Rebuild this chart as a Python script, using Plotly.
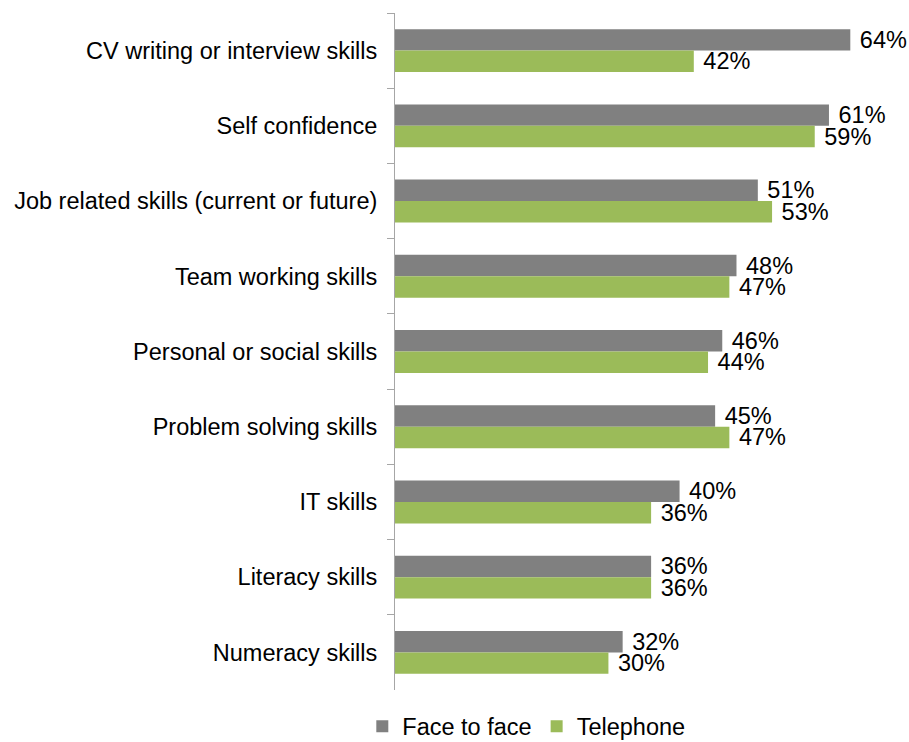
import plotly.graph_objects as go

categories = [
    "CV writing or interview skills",
    "Self confidence",
    "Job related skills (current or future)",
    "Team working skills",
    "Personal or social skills",
    "Problem solving skills",
    "IT skills",
    "Literacy skills",
    "Numeracy skills",
]
face_to_face = [64, 61, 51, 48, 46, 45, 40, 36, 32]
telephone = [42, 59, 53, 47, 44, 47, 36, 36, 30]

FONT = "Liberation Sans, Arial, sans-serif"
LABEL_SIZE = 23.5

fig = go.Figure()
fig.add_trace(go.Bar(
    name="Face to face", y=categories, x=face_to_face, orientation="h",
    marker=dict(color="#808080", line=dict(width=0)),
    texttemplate=" %{x}%", textposition="outside", cliponaxis=False,
    textfont=dict(size=LABEL_SIZE, color="#000000", family=FONT),
))
fig.add_trace(go.Bar(
    name="Telephone", y=categories, x=telephone, orientation="h",
    marker=dict(color="#9BBB59", line=dict(width=0)),
    texttemplate=" %{x}%", textposition="outside", cliponaxis=False,
    textfont=dict(size=LABEL_SIZE, color="#000000", family=FONT),
))

fig.update_layout(
    width=909, height=742,
    margin=dict(l=395, r=16, t=13, b=52, autoexpand=False),
    barmode="group", bargap=0.43, bargroupgap=0,
    plot_bgcolor="white", paper_bgcolor="white",
    font=dict(family=FONT, size=LABEL_SIZE, color="#000000"),
    uniformtext=dict(minsize=LABEL_SIZE, mode="show"),
    showlegend=True,
    legend=dict(orientation="h", xref="container", yref="container",
                x=0.579, xanchor="center", y=0.021, yanchor="middle",
                font=dict(size=LABEL_SIZE, family=FONT), traceorder="normal",
                itemwidth=30),
    xaxis=dict(range=[0, 70], showgrid=False, showticklabels=False, zeroline=False,
               showline=False, ticks=""),
    yaxis=dict(autorange="reversed", showgrid=False, showline=True, linecolor="#A6A6A6",
               linewidth=1, ticks="outside", tickson="boundaries", ticklen=7,
               tickcolor="#A6A6A6", ticklabelstandoff=12,
               tickfont=dict(size=LABEL_SIZE, family=FONT)),
)

fig.write_html("out.html")
